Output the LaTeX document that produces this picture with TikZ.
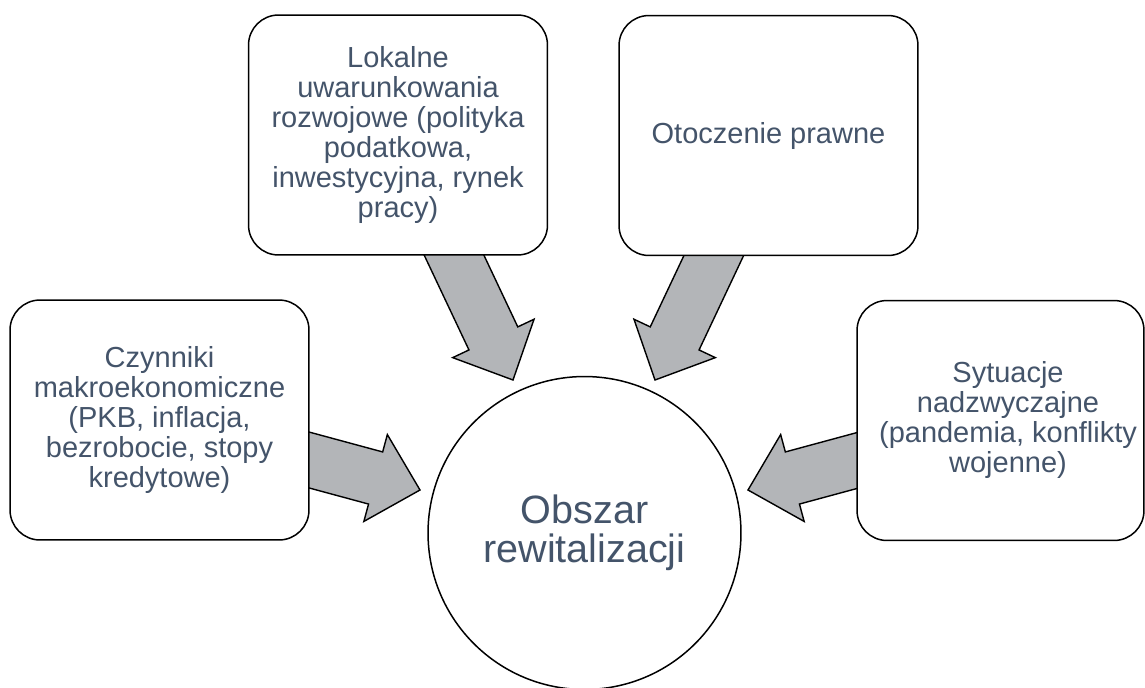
\documentclass[tikz,border=0pt]{standalone}
\usepackage{fontspec}
\setmainfont{Liberation Sans}
\usepackage{xcolor}
\usepackage{tikz}
\usetikzlibrary{positioning, calc, shapes.geometric}

\definecolor{slate}{HTML}{44546A}
\definecolor{arrowgray}{HTML}{B3B5B8}

\begin{document}
\begin{tikzpicture}[
    x=0.02cm, y=-0.02cm,
    every node/.style={text=slate, font=\fontsize{16.5}{17.1}\selectfont, align=center},
    factor/.style={draw=black, line width=0.85pt, rounded corners=0.6cm, fill=white, minimum width=5.98cm, minimum height=4.8cm, inner sep=0pt},
    core/.style={circle, draw=black, line width=0.85pt, fill=white, minimum size=6.26cm, font=\fontsize{22.5}{22.2}\selectfont},
    blockarrow/.style={draw=black, line width=0.8pt, fill=arrowgray, line join=miter}
]

\useasboundingbox (0,0) rectangle (1145,687);

% Arrow tails sit inside the boxes
\coordinate (makro-s) at (250,444);
\coordinate (makro-t) at (420,490);
\coordinate (lokalne-s) at (428,200);
\coordinate (lokalne-t) at (513,380);
\coordinate (prawne-s) at (740,200);
\coordinate (prawne-t) at (655,380);
\coordinate (nadzw-s) at (918,444);
\coordinate (nadzw-t) at (748,490);

\foreach \src in {makro, lokalne, prawne, nadzw} {
    \coordinate (j) at ($(\src-t)!0.92cm!(\src-s)$);
    \draw[blockarrow] ($(\src-s)!0.54cm!90:(\src-t)$) -- ($(j)!0.54cm!90:(\src-t)$)
        -- ($(j)!0.9cm!90:(\src-t)$) -- (\src-t) -- ($(j)!0.9cm!-90:(\src-t)$)
        -- ($(j)!0.54cm!-90:(\src-t)$) -- ($(\src-s)!0.54cm!-90:(\src-t)$) -- cycle;
}

% Boxes
\node[factor] (makro) at (159.5,420) {Czynniki\\makroekonomiczne\\(PKB, inflacja,\\bezrobocie, stopy\\kredytowe)};
\node[factor] (lokalne) at (398,135) {Lokalne\\uwarunkowania\\rozwojowe (polityka\\podatkowa,\\inwestycyjna, rynek\\pracy)};
\node[factor] (prawne) at (768.5,135.5) {Otoczenie prawne};
\node[factor, minimum width=5.74cm] (nadzw) at (1000.5,420.5) {};
\node (nadzw-text) at (1008,420) {Sytuacje\\nadzwyczajne\\(pandemia, konflikty\\wojenne)};

\node[core] (obszar) at (584.5,533) {Obszar\\rewitalizacji};

\end{tikzpicture}
\end{document}
